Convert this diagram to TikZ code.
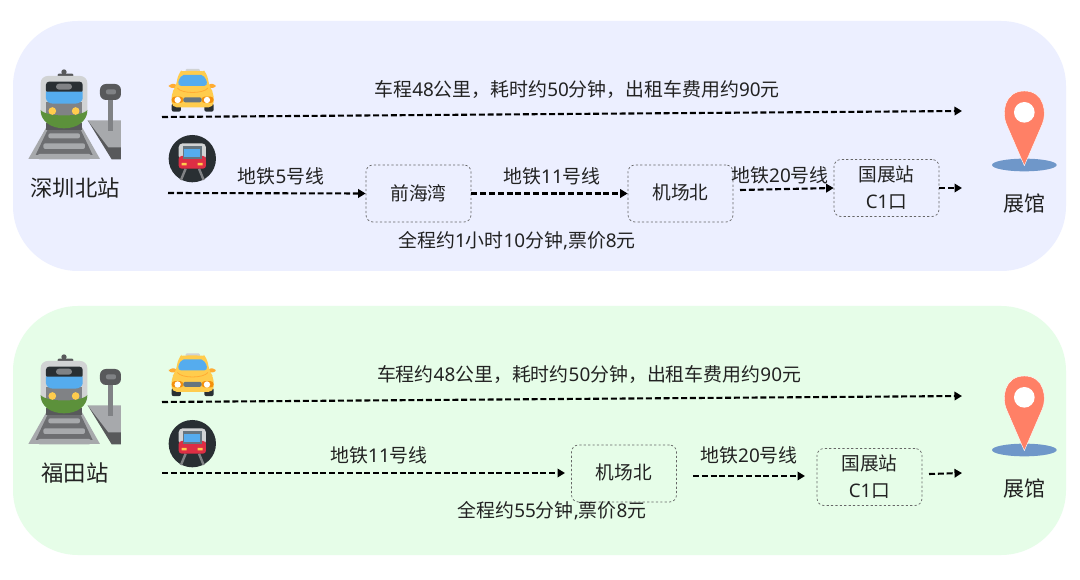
\documentclass[tikz,border=0pt]{standalone}
\usepackage{fontspec}
\usetikzlibrary{arrows.meta}
\setmainfont{Noto Sans}
\newfontfamily\cjkf{Noto Sans CJK SC}
\newcommand{\C}[1]{{\cjkf #1}}
\definecolor{panelA}{HTML}{ECEFFF}
\definecolor{panelB}{HTML}{E6FDE8}
\definecolor{txt}{HTML}{222222}
\definecolor{tdark}{HTML}{58595B}
\definecolor{tgray}{HTML}{808285}
\definecolor{tmid}{HTML}{6D6E71}
\definecolor{tlight}{HTML}{A7A9AC}
\definecolor{tbody}{HTML}{D1D3D4}
\definecolor{tink}{HTML}{292F33}
\definecolor{tblue}{HTML}{55ACEE}
\definecolor{tyellow}{HTML}{FFCC4D}
\definecolor{tgreen}{HTML}{5C913B}
\definecolor{torange}{HTML}{F4900C}
\definecolor{tmirror}{HTML}{FFAC33}
\definecolor{tred}{HTML}{DD2E44}
\definecolor{tslate}{HTML}{66757F}
\definecolor{pinred}{HTML}{FF8066}
\definecolor{pinblue}{HTML}{6F97C9}
\tikzset{
  x=1pt,y=-1pt,
  panel/.style={fill=#1,draw=none,rounded corners=65pt},
  stopbox/.style={draw=black!60,dash pattern=on 2.2pt off 2.2pt,line width=.7pt,rounded corners=7pt,
    minimum width=105pt,minimum height=57pt,align=center,inner sep=0pt,font=\fontsize{18.7}{27}\selectfont,text=txt},
  lbl/.style={font=\fontsize{18.9}{22}\selectfont,text=txt,inner sep=0pt},
  captxt/.style={font=\fontsize{22.3}{26}\selectfont,text=txt,inner sep=0pt},
  desttxt/.style={font=\fontsize{21}{26}\selectfont,text=txt,inner sep=0pt},
  route/.style={draw=black,line width=2.1pt,dash pattern=on 6pt off 2.8pt,-{Triangle[length=7.5pt,width=8.5pt]}},
  pics/railicon/.style={code={
    \begin{scope}[x=.3333pt,y=-.3333pt]
    \fill[tlight] (80,200)--(185,200)--(240,297)--(25,297)--cycle;
    \fill[tmid] (85,205)--(180,205)--(218,285)--(47,285)--cycle;
    \fill[tlight,rounded corners=2pt] (85,220) rectangle (180,235);
    \fill[tlight,rounded corners=2pt] (70,250) rectangle (195,267);
    \fill[tlight,rounded corners=2pt] (53,282) rectangle (213,298);
    \fill[tdark] (78,190) rectangle (186,210);
    \fill[tdark] (132,36) circle (8);
    \fill[tdark,rounded corners=1pt] (113,41) rectangle (160,50);
    \fill[tbody,rounded corners=7pt] (62,48) rectangle (202,180);
    \fill[tgray] (78,125) rectangle (187,185);
    \fill[tink,rounded corners=3pt] (78,65) rectangle (188,100);
    \fill[tgray,rounded corners=3pt] (108,71) rectangle (156,89);
    \fill[tblue] (78,95) -- (188,95) -- (188,115) .. controls (188,125) and (175,131) .. (165,131) -- (100,131) .. controls (90,131) and (78,125) .. (78,115) -- cycle;
    \fill[tgreen] (62,150) .. controls (78,172) and (186,172) .. (202,150) .. controls (202,185) and (170,205) .. (132,205) .. controls (94,205) and (62,185) .. (62,150) -- cycle;
    \fill[tyellow] (97,153) circle (11.5) (167,153) circle (11.5);
    \fill[tdark] (203,181)--(303,260)--(303,298)--(275,298)--cycle;
    \fill[tlight] (203,181)--(303,181)--(303,262)--(265,262)--cycle;
    \fill[tgray] (264,110) rectangle (280,212);
    \fill[tdark,rounded corners=6pt] (240,72) rectangle (303,120);
    \fill[tgray,rounded corners=2pt] (258,88) rectangle (288,103);
    \end{scope}
  }},
  pics/taxiicon/.style={code={
    \begin{scope}[x=.3333pt,y=-.3333pt]
    \fill[tink,rounded corners=2pt] (455,130) rectangle (483,155);
    \fill[tink,rounded corners=2pt] (553,130) rectangle (581,155);
    \fill[tbody,rounded corners=1pt] (497,27) rectangle (540,40);
    \fill[tmirror,rounded corners=3pt] (447,72) rectangle (472,84);
    \fill[tmirror,rounded corners=3pt] (563,72) rectangle (587,84);
    \fill[tyellow,rounded corners=5pt] (467,82) -- (475,42) .. controls (480,36) and (490,33) .. (517,33) .. controls (545,33) and (556,36) .. (561,42) -- (569,82) -- (581,98) -- (581,142) -- (455,142) -- (455,98) -- cycle;
    \fill[tblue,rounded corners=4pt] (472,78) -- (480,48) .. controls (490,45) and (545,45) .. (555,48) -- (564,78) -- cycle;
    \draw[tmirror,line width=.8pt] (472,84) .. controls (485,102) and (550,102) .. (564,84);
    \fill[torange,rounded corners=3pt] (455,110) rectangle (490,129);
    \fill[torange,rounded corners=3pt] (545,110) rectangle (581,129);
    \fill[white] (473,120) circle (9.5) (561,120) circle (9.5);
    \fill[tslate,rounded corners=2pt] (490,112) rectangle (545,127);
    \end{scope}
  }},
  pics/metroicon/.style={code={
    \begin{scope}[x=.3333pt,y=-.3333pt]
    \fill[tink] (517,296) circle (71);
    \draw[tgray,line width=2.4pt] (497,326)--(483,360) (537,326)--(551,360);
    \fill[tbody,rounded corners=4pt] (476,250) rectangle (558,300);
    \fill[tred,rounded corners=3pt] (476,288) rectangle (558,326);
    \fill[tslate] (488,259) rectangle (546,296);
    \fill[tblue] (493,266) rectangle (541,292);
    \fill[tyellow] (485,309) rectangle (500,316) (533,309) rectangle (548,316);
    \end{scope}
  }},
  pics/pinicon/.style={code={
    \begin{scope}[x=.3333pt,y=-.3333pt]
    \fill[pinblue] (283,255) ellipse [x radius=97,y radius=19];
    \fill[pinred,draw=white,line width=.4pt] (283,257) -- (229,132) .. controls (215,100) and (222,33) .. (283,33) .. controls (344,33) and (351,100) .. (337,132) -- cycle;
    \fill[white] (283,97) circle (31);
    \end{scope}
  }},
}
\begin{document}
\begin{tikzpicture}
\useasboundingbox (0,0) rectangle (1080,580);
\fill[white] (0,0) rectangle (1080,580);
\fill[panel=panelA] (13,21) rectangle (1066,271);
\fill[panel=panelB] (13,306) rectangle (1066,555);

% first panel icons
\pic at (20,60) {railicon};
\pic at (20,60) {taxiicon};
\pic at (20,60) {metroicon};
\pic at (930,80) {pinicon};
\node[captxt] (s1) at (75,188) {\C{深圳北站}};
\node[desttxt] (d1) at (1024,203) {\C{展馆}};

% first panel
\coordinate (a1) at (162,117); \coordinate (a2) at (962,111);
\draw[route] (a1) -- (a2);
\node[lbl] (t1) at (577,90) {\C{车程}48\C{公里，耗时约}50\C{分钟，出租车费用约}90\C{元}};
\coordinate (b0) at (168,193);
\node[stopbox] (b1) at (418.5,193.5) {\C{前海湾}};
\node[stopbox] (b2) at (680.5,193.5) {\raisebox{4pt}{\C{机场北}}};
\node[stopbox] (b3) at (886.5,188) {\C{国展站}\\C1\C{口}};
\coordinate (b4) at (962,188);
\coordinate (b2o) at (740,190);
\draw[route] (b0) -- (b1.west);
\draw[route] (b1.east) -- (b2.west);
\draw[route] (b2o) -- (b3.west);
\draw[route] (b3.east) -- (b4);
\node[lbl] (l1) at (281,176) {\C{地铁}5\C{号线}};
\node[lbl] (l2) at (552,176) {\C{地铁}11\C{号线}};
\node[lbl] (l3) at (780,175) {\C{地铁}20\C{号线}};
\node[lbl] (n1) at (517,241) {\C{全程约}1\C{小时}10\C{分钟},\C{票价}8\C{元}};

% second panel icons
\pic at (20,345) {railicon};
\pic at (20,344.5) {taxiicon};
\pic at (20,345) {metroicon};
\pic at (930,365) {pinicon};
\node[captxt] (s2) at (75,473) {\C{福田站}};
\node[desttxt] (d2) at (1024,488) {\C{展馆}};

% second panel
\coordinate (c1) at (162,402); \coordinate (c2) at (962,396);
\draw[route] (c1) -- (c2);
\node[lbl] (t2) at (589,375) {\C{车程约}48\C{公里，耗时约}50\C{分钟，出租车费用约}90\C{元}};
\coordinate (e0) at (162,473);
\node[stopbox] (e1) at (624,473.5) {\raisebox{4pt}{\C{机场北}}};
\node[stopbox] (e2) at (869.5,477) {\C{国展站}\\C1\C{口}};
\coordinate (e3) at (962,473);
\coordinate (e1o) at (693,476);
\coordinate (e1i) at (565,473);
\coordinate (e2i) at (805,476);
\coordinate (e2o) at (929,474);
\draw[route] (e0) -- (e1i);
\draw[route] (e1o) -- (e2i);
\draw[route] (e2o) -- (e3);
\node[lbl] (l4) at (379,455) {\C{地铁}11\C{号线}};
\node[lbl] (l5) at (749,455) {\C{地铁}20\C{号线}};
\node[lbl] (n2) at (552,511) {\C{全程约}55\C{分钟},\C{票价}8\C{元}};
\end{tikzpicture}
\end{document}
